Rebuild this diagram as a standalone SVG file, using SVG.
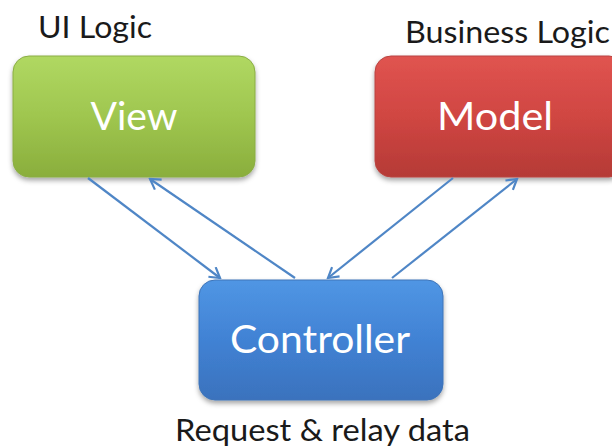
<svg xmlns="http://www.w3.org/2000/svg" width="612" height="448" viewBox="0 0 612 448">
<defs>
<style>
.lbl{font-family:Lato,"Open Sans","Liberation Sans",sans-serif;fill:#1a1a1a}
.node{font-family:Lato,"Open Sans","Liberation Sans",sans-serif;fill:#ffffff}
.conn{stroke:#4f86c6;stroke-width:2.2;fill:none;marker-end:url(#arr)}
</style>
<linearGradient id="gGreen" x1="0" y1="0" x2="0" y2="1">
<stop offset="0" stop-color="#b0d862"/><stop offset="0.5" stop-color="#9fc64f"/><stop offset="1" stop-color="#8aae3c"/>
</linearGradient>
<linearGradient id="gRed" x1="0" y1="0" x2="0" y2="1">
<stop offset="0" stop-color="#e05450"/><stop offset="0.5" stop-color="#d04642"/><stop offset="1" stop-color="#b53a36"/>
</linearGradient>
<linearGradient id="gBlue" x1="0" y1="0" x2="0" y2="1">
<stop offset="0" stop-color="#5096e4"/><stop offset="0.5" stop-color="#4182d4"/><stop offset="1" stop-color="#3a72bd"/>
</linearGradient>
<filter id="sh" x="-10%" y="-10%" width="120%" height="130%">
<feDropShadow dx="0" dy="3" stdDeviation="2.5" flood-color="#000" flood-opacity="0.35"/>
</filter>
<marker id="arr" markerWidth="14" markerHeight="14" refX="12" refY="7" orient="auto" markerUnits="userSpaceOnUse">
<path d="M2,1 L12,7 L2,13" fill="none" stroke="#4f86c6" stroke-width="2.2"/>
</marker>
</defs>
<rect width="612" height="448" fill="#ffffff"/>

<text class="lbl" x="38" y="38" font-size="31" textLength="114" lengthAdjust="spacingAndGlyphs">UI Logic</text>
<text class="lbl" x="405" y="43" font-size="31" textLength="205" lengthAdjust="spacingAndGlyphs">Business Logic</text>
<text class="lbl" x="175" y="441" font-size="30" textLength="295" lengthAdjust="spacingAndGlyphs">Request &amp; relay data</text>

<g id="view">
<rect x="13" y="56" width="242" height="121" rx="16" fill="url(#gGreen)" stroke="#8aad44" stroke-width="1" filter="url(#sh)"/>
<text class="node" x="134" y="130" font-size="39" text-anchor="middle" textLength="87" lengthAdjust="spacingAndGlyphs">View</text>
</g>
<g id="model">
<rect x="375" y="56" width="250" height="121" rx="16" fill="url(#gRed)" stroke="#b84440" stroke-width="1" filter="url(#sh)"/>
<text class="node" x="495" y="130" font-size="39" text-anchor="middle" textLength="116" lengthAdjust="spacingAndGlyphs">Model</text>
</g>
<g id="controller">
<rect x="199" y="280" width="244" height="120" rx="16" fill="url(#gBlue)" stroke="#3e74b8" stroke-width="1" filter="url(#sh)"/>
<text class="node" x="320" y="353" font-size="39" text-anchor="middle" textLength="180" lengthAdjust="spacingAndGlyphs">Controller</text>
</g>

<g id="connectors">
<line class="conn" x1="88" y1="178" x2="220" y2="278"/>
<line class="conn" x1="295" y1="278" x2="150" y2="179"/>
<line class="conn" x1="453" y1="178" x2="328" y2="278"/>
<line class="conn" x1="392" y1="278" x2="517" y2="179"/>
</g>
</svg>
